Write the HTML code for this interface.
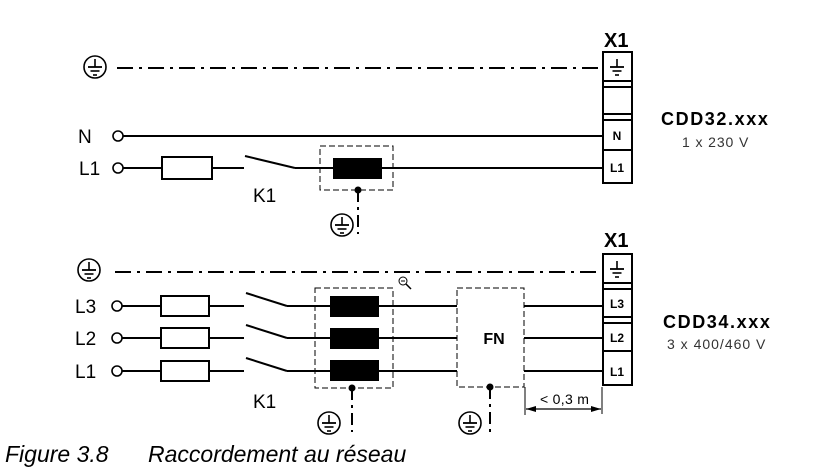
<!DOCTYPE html>
<html><head><meta charset="utf-8"><style>
html,body{margin:0;padding:0;background:#fff;}
svg{display:block;}
text{font-family:"Liberation Sans",Arial,sans-serif;}
</style></head><body>
<svg width="826" height="473" viewBox="0 0 826 473" xmlns="http://www.w3.org/2000/svg">
<defs>
<g id="gnd" stroke="#000" fill="none">
<circle cx="0" cy="0" r="11" stroke-width="1.6"/>
<line x1="0" y1="-8" x2="0" y2="0" stroke-width="1.6"/>
<line x1="-7" y1="0" x2="7" y2="0" stroke-width="1.8"/>
<line x1="-4.5" y1="4" x2="4.5" y2="4" stroke-width="1.6"/>
<line x1="-2" y1="8" x2="2" y2="8" stroke-width="1.6"/>
</g>
<g id="tg" stroke="#000" fill="none">
<line x1="0" y1="-8" x2="0" y2="0" stroke-width="1.6"/>
<line x1="-7" y1="0" x2="7" y2="0" stroke-width="1.8"/>
<line x1="-4.5" y1="4" x2="4.5" y2="4" stroke-width="1.6"/>
<line x1="-2" y1="8" x2="2" y2="8" stroke-width="1.6"/>
</g>
<marker id="ar" viewBox="0 0 10 6" refX="10" refY="3" markerWidth="10" markerHeight="6" orient="auto-start-reverse" markerUnits="userSpaceOnUse"><path d="M0,0L10,3L0,6z" fill="#000"/></marker>
</defs>

<!-- TOP -->
<use href="#gnd" x="95" y="67"/>
<line x1="117" y1="68" x2="603" y2="68" stroke="#000" stroke-width="2" stroke-dasharray="16,6,3,6"/>
<text x="78" y="143" font-size="19">N</text>
<circle cx="118" cy="136" r="5" fill="#fff" stroke="#000" stroke-width="1.6"/>
<line x1="123" y1="136" x2="603" y2="136" stroke="#000" stroke-width="2"/>
<text x="79" y="175" font-size="19">L1</text>
<circle cx="118" cy="168" r="5" fill="#fff" stroke="#000" stroke-width="1.6"/>
<line x1="123" y1="168" x2="244" y2="168" stroke="#000" stroke-width="2"/>
<rect x="162" y="157" width="50" height="22" fill="#fff" stroke="#000" stroke-width="2"/>
<line x1="245" y1="156" x2="295" y2="168" stroke="#000" stroke-width="2"/>
<line x1="295" y1="168" x2="603" y2="168" stroke="#000" stroke-width="2"/>
<rect x="320" y="146" width="73" height="44" fill="none" stroke="#000" stroke-width="1" stroke-dasharray="6,3"/>
<rect x="333" y="158" width="49" height="21" fill="#000"/>
<circle cx="358" cy="190" r="3.5" fill="#000"/>
<line x1="358" y1="190" x2="358" y2="234" stroke="#000" stroke-width="2" stroke-dasharray="12,5,3,5"/>
<use href="#gnd" x="342" y="225"/>
<text x="253" y="202" font-size="19">K1</text>

<!-- X1 top -->
<text x="604" y="47" font-size="20" font-weight="bold">X1</text>
<rect x="603" y="52" width="29" height="131" fill="#fff" stroke="#000" stroke-width="2"/>
<line x1="603" y1="81" x2="632" y2="81" stroke="#000" stroke-width="2"/>
<line x1="603" y1="87" x2="632" y2="87" stroke="#000" stroke-width="2"/>
<line x1="603" y1="114" x2="632" y2="114" stroke="#000" stroke-width="2"/>
<line x1="603" y1="120" x2="632" y2="120" stroke="#000" stroke-width="2"/>
<line x1="603" y1="150" x2="632" y2="150" stroke="#000" stroke-width="2"/>
<use href="#tg" x="617" y="67"/>
<text x="617" y="140" font-size="12" font-weight="bold" text-anchor="middle">N</text>
<text x="617" y="172" font-size="12" font-weight="bold" text-anchor="middle">L1</text>
<text x="661" y="125" font-size="18" font-weight="bold" letter-spacing="1.6">CDD32.xxx</text>
<text x="682" y="147" font-size="14" fill="#333" letter-spacing="0.9">1 x 230 V</text>

<!-- BOTTOM -->
<use href="#gnd" x="89" y="270"/>
<line x1="115" y1="272" x2="603" y2="272" stroke="#000" stroke-width="2" stroke-dasharray="16,6,3,6"/>
<g stroke="#000" stroke-width="2">
<line x1="122" y1="306" x2="244" y2="306"/>
<line x1="122" y1="338" x2="244" y2="338"/>
<line x1="122" y1="371" x2="244" y2="371"/>
<line x1="246" y1="293" x2="287" y2="306"/>
<line x1="246" y1="325" x2="287" y2="338"/>
<line x1="246" y1="358" x2="287" y2="371"/>
<line x1="287" y1="306" x2="457" y2="306"/>
<line x1="287" y1="338" x2="457" y2="338"/>
<line x1="287" y1="371" x2="457" y2="371"/>
<line x1="524" y1="306" x2="603" y2="306"/>
<line x1="524" y1="338" x2="603" y2="338"/>
<line x1="524" y1="371" x2="603" y2="371"/>
</g>
<g fill="#fff" stroke="#000" stroke-width="1.6">
<circle cx="117" cy="306" r="5"/><circle cx="117" cy="338" r="5"/><circle cx="117" cy="371" r="5"/>
</g>
<g fill="#fff" stroke="#000" stroke-width="2">
<rect x="161" y="296" width="48" height="20"/>
<rect x="161" y="328" width="48" height="20"/>
<rect x="161" y="361" width="48" height="20"/>
</g>
<text x="75" y="313" font-size="19">L3</text>
<text x="75" y="345" font-size="19">L2</text>
<text x="75" y="378" font-size="19">L1</text>
<rect x="315" y="288" width="78" height="100" fill="none" stroke="#000" stroke-width="1" stroke-dasharray="6,3"/>
<rect x="330" y="296" width="49" height="21" fill="#000"/>
<rect x="330" y="328" width="49" height="21" fill="#000"/>
<rect x="330" y="360" width="49" height="21" fill="#000"/>
<circle cx="352" cy="388" r="3.5" fill="#000"/>
<line x1="352" y1="388" x2="352" y2="432" stroke="#000" stroke-width="2" stroke-dasharray="12,5,3,5"/>
<use href="#gnd" x="329" y="423"/>
<text x="253" y="408" font-size="19">K1</text>
<!-- magnifier -->
<circle cx="403" cy="281" r="4" fill="none" stroke="#000" stroke-width="1"/>
<line x1="401" y1="281" x2="405" y2="281" stroke="#000" stroke-width="1"/>
<line x1="406" y1="284" x2="411" y2="289" stroke="#000" stroke-width="1.5"/>
<!-- FN -->
<rect x="457" y="288" width="67" height="99" fill="#fff" stroke="#000" stroke-width="1" stroke-dasharray="6,3"/>
<text x="494" y="344" font-size="16" font-weight="bold" text-anchor="middle">FN</text>
<circle cx="490" cy="387" r="3.5" fill="#000"/>
<line x1="490" y1="387" x2="490" y2="432" stroke="#000" stroke-width="2" stroke-dasharray="12,5,3,5"/>
<use href="#gnd" x="470" y="423"/>
<!-- dimension -->
<line x1="525" y1="387" x2="525" y2="415" stroke="#000" stroke-width="1"/>
<line x1="602" y1="387" x2="602" y2="414" stroke="#000" stroke-width="1"/>
<line x1="526" y1="409" x2="601" y2="409" stroke="#000" stroke-width="1.2" marker-start="url(#ar)" marker-end="url(#ar)"/>
<text x="540" y="404" font-size="14" letter-spacing="0.3">&lt; 0,3 m</text>

<!-- X1 bottom -->
<text x="604" y="247" font-size="20" font-weight="bold">X1</text>
<rect x="603" y="254" width="29" height="131" fill="#fff" stroke="#000" stroke-width="2"/>
<line x1="603" y1="283" x2="632" y2="283" stroke="#000" stroke-width="2"/>
<line x1="603" y1="289" x2="632" y2="289" stroke="#000" stroke-width="2"/>
<line x1="603" y1="317" x2="632" y2="317" stroke="#000" stroke-width="2"/>
<line x1="603" y1="323" x2="632" y2="323" stroke="#000" stroke-width="2"/>
<line x1="603" y1="351" x2="632" y2="351" stroke="#000" stroke-width="2"/>
<use href="#tg" x="617" y="269"/>
<text x="617" y="308" font-size="12" font-weight="bold" text-anchor="middle">L3</text>
<text x="617" y="342" font-size="12" font-weight="bold" text-anchor="middle">L2</text>
<text x="617" y="376" font-size="12" font-weight="bold" text-anchor="middle">L1</text>
<text x="663" y="328" font-size="18" font-weight="bold" letter-spacing="1.6">CDD34.xxx</text>
<text x="667" y="349" font-size="14" fill="#333" letter-spacing="1">3 x 400/460 V</text>

<text x="5" y="462" font-size="23" font-style="italic">Figure 3.8</text>
<text x="148" y="462" font-size="23" font-style="italic">Raccordement au réseau</text>
</svg>
</body></html>
